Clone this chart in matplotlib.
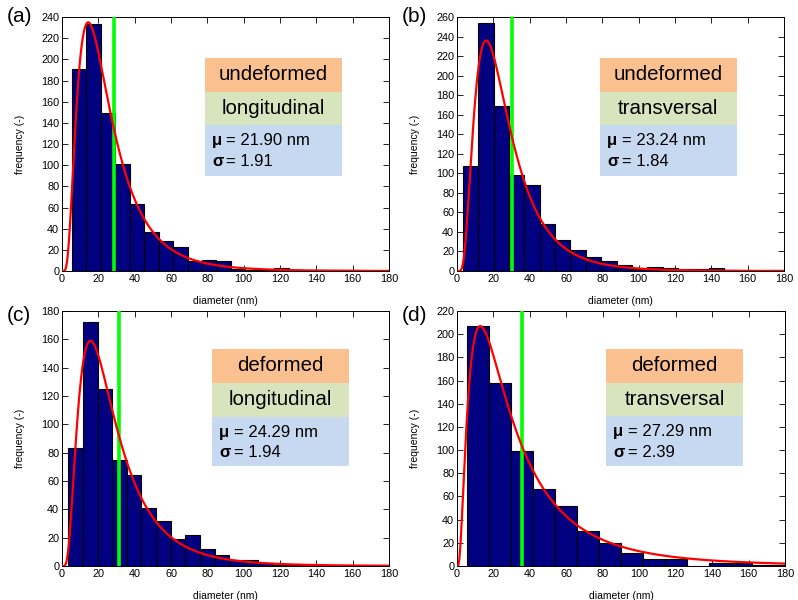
import numpy as np
import matplotlib
matplotlib.use('Agg')
import matplotlib.pyplot as plt
from matplotlib.patches import Rectangle

plt.rcParams['font.family'] = ['Liberation Sans', 'DejaVu Sans']

# histogram counts
counts_a = [191, 233, 149, 101, 63, 37, 28, 23, 9, 10, 9, 2, 1, 1, 3, 1, 0, 1, 1, 1, 0, 0]
counts_b = [108, 254, 169, 98, 88, 48, 32, 22, 14, 10, 6, 2, 4, 3, 2, 2, 3, 1, 0, 0, 1]
counts_c = [83, 172, 125, 75, 64, 41, 32, 19, 22, 12, 8, 4, 4, 2, 1, 1, 1, 1, 0, 0, 0, 1]
counts_d = [207, 158, 99, 66, 52, 30, 20, 11, 6, 6, 0, 3, 3, 1, 1]

# first bin edge and bin width (nm)
bin_start = [5.5, 3.3, 3.5, 5.5]
bin_width = [7.95, 8.45, 8.05, 12.05]

# lognormal fit: median (nm), geometric std, peak height of the fitted curve
mu = [21.90, 23.24, 24.29, 27.29]
sigma = [1.91, 1.84, 1.94, 2.39]
fit_peak = [235, 236, 159, 207]

# green marker line position (nm)
mean_line = [28.4, 30.0, 31.2, 35.9]

state = ['undeformed', 'undeformed', 'deformed', 'deformed']
direction = ['longitudinal', 'transversal', 'longitudinal', 'transversal']
panel = ['(a)', '(b)', '(c)', '(d)']
ymax = [240, 260, 180, 220]

all_counts = [counts_a, counts_b, counts_c, counts_d]

fig = plt.figure(figsize=(7.98, 6.0), dpi=100)
positions = [[0.0777, 0.5483, 0.4098, 0.4233],
             [0.5727, 0.5483, 0.4098, 0.4233],
             [0.0777, 0.0567, 0.4098, 0.4250],
             [0.5727, 0.0567, 0.4110, 0.4250]]
# box placement in axes fraction: left, right, top, orange/green, green/blue, bottom
boxes = [[0.437, 0.856, 0.839, 0.705, 0.575, 0.374],
         [0.437, 0.856, 0.839, 0.705, 0.575, 0.374],
         [0.459, 0.878, 0.851, 0.718, 0.584, 0.392],
         [0.454, 0.872, 0.851, 0.718, 0.588, 0.392]]
label_pos = [(0.008, 0.972), (0.503, 0.972), (0.008, 0.474), (0.503, 0.474)]

for i in range(4):
    ax = fig.add_axes(positions[i])
    counts = np.array(all_counts[i])
    edges = bin_start[i] + bin_width[i] * np.arange(len(counts))
    ax.bar(edges, counts, width=bin_width[i], align='edge',
           color='#000080', edgecolor='black', linewidth=0.8, zorder=2)

    # lognormal fit curve
    x = np.linspace(0.01, 180, 600)
    s = np.log(sigma[i])
    pdf = np.exp(-(np.log(x / mu[i])) ** 2 / (2 * s ** 2)) / x
    mode = mu[i] * np.exp(-s ** 2)
    pdf_mode = np.exp(-(np.log(mode / mu[i])) ** 2 / (2 * s ** 2)) / mode
    ax.plot(x, fit_peak[i] * pdf / pdf_mode, color='red', lw=1.6, zorder=4)

    ax.axvline(mean_line[i], color='#00ff00', lw=2.6, zorder=3)

    ax.set_xlim(0, 180)
    ax.set_ylim(0, ymax[i])
    ax.set_xticks(np.arange(0, 181, 20))
    ax.set_yticks(np.arange(0, ymax[i] + 1, 20))
    ax.tick_params(direction='in', top=True, right=True, length=4,
                   width=0.6, labelsize=7.8, pad=2)
    for sp in ax.spines.values():
        sp.set_linewidth(0.7)
    ax.set_xlabel('diameter (nm)', fontsize=7.5)
    ax.set_ylabel('frequency (-)', fontsize=7.5)
    ax.xaxis.set_label_coords(0.5, -0.10)
    ax.yaxis.set_label_coords(-0.113, 0.5)

    l, r, t, b1, b2, b = boxes[i]
    ax.add_patch(Rectangle((l, b1), r - l, t - b1, transform=ax.transAxes,
                           facecolor='#FAC090', edgecolor='none', zorder=5))
    ax.add_patch(Rectangle((l, b2), r - l, b1 - b2, transform=ax.transAxes,
                           facecolor='#D7E4BD', edgecolor='none', zorder=5))
    ax.add_patch(Rectangle((l, b), r - l, b2 - b, transform=ax.transAxes,
                           facecolor='#C6D9F1', edgecolor='none', zorder=5))
    cx = (l + r) / 2
    ax.text(cx, (t + b1) / 2, state[i], transform=ax.transAxes, ha='center',
            va='center', fontsize=14.8, zorder=6)
    ax.text(cx, (b1 + b2) / 2, direction[i], transform=ax.transAxes, ha='center',
            va='center', fontsize=14.8, zorder=6)
    y1 = b2 - (b2 - b) * 0.31
    y2 = b2 - (b2 - b) * 0.72
    ax.text(l + 0.022, y1, '\u03bc', transform=ax.transAxes, fontweight='bold',
            va='center', fontsize=12, zorder=6)
    ax.text(l + 0.066, y1, '= %.2f nm' % mu[i], transform=ax.transAxes,
            va='center', fontsize=12, zorder=6)
    ax.text(l + 0.022, y2, '\u03c3', transform=ax.transAxes, fontweight='bold',
            va='center', fontsize=12, zorder=6)
    ax.text(l + 0.066, y2, '= %.2f' % sigma[i], transform=ax.transAxes,
            va='center', fontsize=12, zorder=6)

    fig.text(label_pos[i][0], label_pos[i][1], panel[i], fontsize=15,
             ha='left', va='center')

fig.savefig('out.png', dpi=100)
